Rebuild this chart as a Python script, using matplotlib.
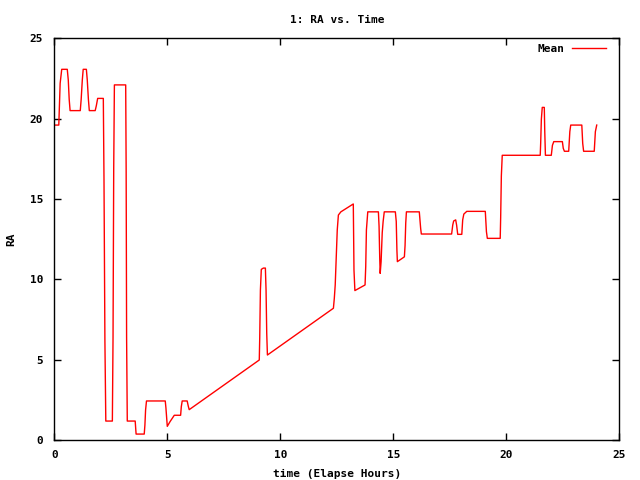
import matplotlib
matplotlib.use("Agg")
import matplotlib.pyplot as plt

time_hours = [
    0.05, 0.20, 0.22, 0.26, 0.33, 0.575, 0.62, 0.66, 0.70,
    1.15, 1.19, 1.24, 1.28, 1.42, 1.46, 1.51, 1.55, 1.81, 1.86, 1.92,
    2.17, 2.20, 2.24, 2.28, 2.57, 2.60, 2.63, 2.66, 3.16, 3.18, 3.20, 3.23,
    3.58, 3.62, 3.98, 4.01, 4.04, 4.08, 4.91, 4.94, 5.00, 5.12, 5.22, 5.31,
    5.59, 5.62, 5.66, 5.88, 5.93, 5.97,
    9.07, 9.09, 9.12, 9.16, 9.25, 9.34, 9.37, 9.40, 9.43,
    12.35, 12.39, 12.43, 12.47, 12.52, 12.57, 12.68, 13.23, 13.26, 13.30,
    13.75, 13.78, 13.81, 13.87, 14.34, 14.37, 14.40, 14.42, 14.46, 14.51,
    14.55, 14.60, 15.09, 15.13, 15.16, 15.18, 15.49, 15.52, 15.55, 15.58,
    16.15, 16.18, 16.21, 16.24, 17.58, 17.63, 17.67, 17.76, 17.80, 17.85,
    18.03, 18.07, 18.12, 18.25, 19.07, 19.12, 19.16, 19.73, 19.75, 19.78,
    19.82, 21.50, 21.52, 21.55, 21.59, 21.68, 21.70, 21.73, 21.99, 22.04,
    22.10, 22.48, 22.52, 22.57, 22.76, 22.81, 22.85, 23.34, 23.38, 23.42,
    23.89, 23.94, 24.00,
]
ra_mean = [
    19.6, 19.6, 20.5, 22.2, 23.07, 23.07, 22.4, 21.2, 20.5,
    20.5, 21.2, 22.4, 23.07, 23.07, 22.4, 21.2, 20.5, 20.5, 20.8, 21.26,
    21.26, 16.2, 6.2, 1.18, 1.18, 6.4, 16.9, 22.1, 22.1, 16.9, 6.4, 1.18,
    1.18, 0.37, 0.37, 0.93, 1.87, 2.43, 2.43, 2.0, 0.85, 1.14, 1.35, 1.54,
    1.54, 2.07, 2.43, 2.43, 2.1, 1.89,
    4.98, 6.35, 9.33, 10.62, 10.7, 10.7, 9.33, 6.64, 5.29,
    8.2, 8.82, 9.65, 11.1, 13.07, 14.0, 14.2, 14.69, 10.58, 9.3,
    9.65, 10.8, 13.07, 14.2, 14.2, 13.3, 11.3, 10.37, 11.1, 12.9,
    13.6, 14.2, 14.2, 13.6, 11.8, 11.1, 11.4, 12.1, 13.5, 14.2,
    14.2, 13.7, 13.17, 12.82, 12.82, 13.38, 13.63, 13.7, 13.38, 12.8,
    12.8, 13.7, 14.06, 14.23, 14.23, 12.97, 12.55, 12.55, 13.84, 16.43,
    17.72, 17.72, 18.46, 19.96, 20.7, 20.7, 19.25, 17.72, 17.72, 18.34,
    18.57, 18.57, 18.15, 17.97, 17.97, 19.19, 19.6, 19.6, 18.46, 17.97,
    17.97, 19.19, 19.6,
]
x_ticks = [0, 5, 10, 15, 20, 25]
y_ticks = [0, 5, 10, 15, 20, 25]

plt.rcParams["font.family"] = "DejaVu Sans Mono"
plt.rcParams["font.weight"] = "bold"
plt.rcParams["font.size"] = 8

fig = plt.figure(figsize=(6.4, 4.8), dpi=100)
ax = fig.add_axes([0.0848, 0.0833, 0.8829, 0.8369])
ax.plot(time_hours, ra_mean, color="#ff0000", linewidth=1.0, label="Mean")
ax.set_xlim(0, 25)
ax.set_ylim(0, 25)
ax.set_xticks(x_ticks)
ax.set_yticks(y_ticks)
ax.tick_params(direction="in", length=5, width=1, top=True, right=True,
               labelsize=8)
ax.tick_params(axis="x", pad=7)
ax.tick_params(axis="y", pad=8)
for s in ax.spines.values():
    s.set_linewidth(1.0)
ax.set_title("1: RA vs. Time", fontsize=8, fontweight="bold", pad=11)
ax.set_xlabel("time (Elapse Hours)", fontsize=8, fontweight="bold", labelpad=7)
ax.set_ylabel("RA", fontsize=8, fontweight="bold")
ax.yaxis.set_label_coords(-0.068, 0.5)
leg = ax.legend(loc="upper right", bbox_to_anchor=(0.986, 1.0), frameon=False,
                markerfirst=False, handlelength=3.0, handletextpad=0.7,
                fontsize=8, borderaxespad=0.12)
fig.savefig("out.png", dpi=100)
